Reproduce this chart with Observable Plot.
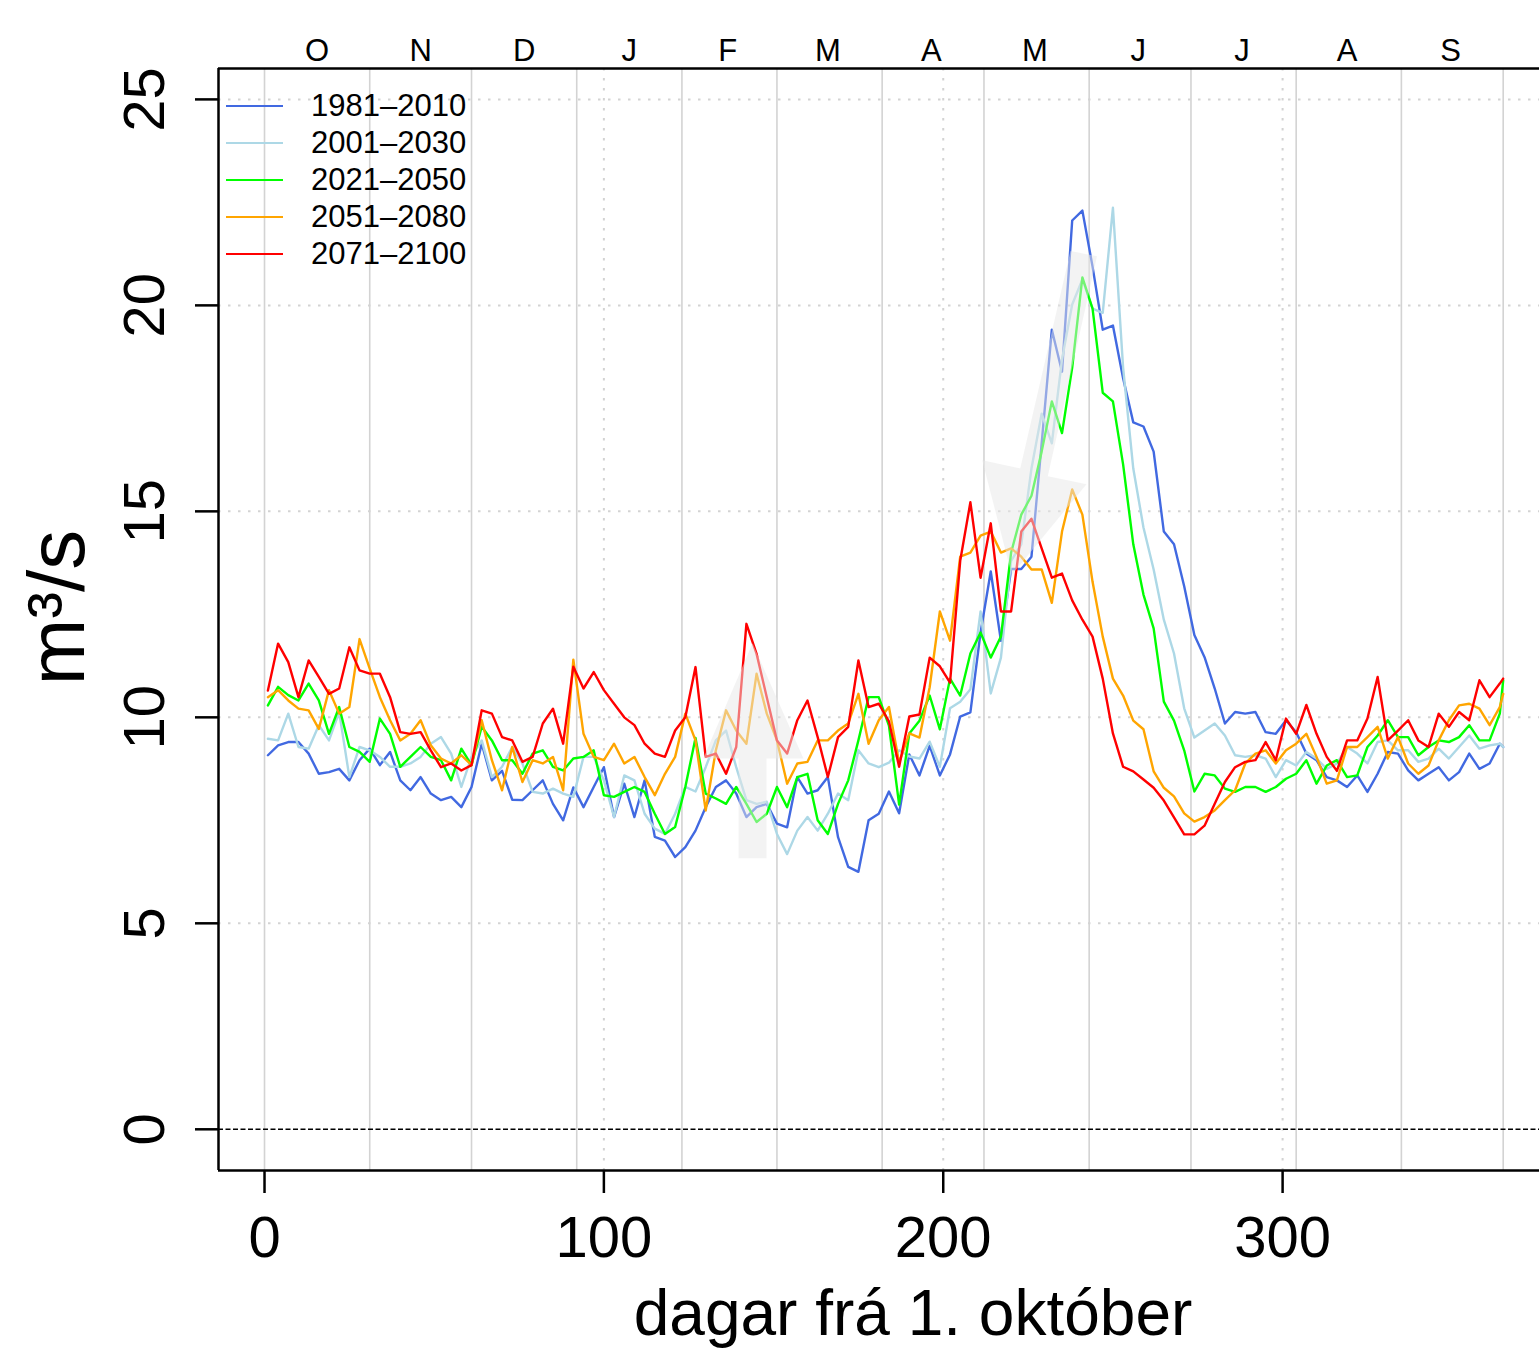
<!DOCTYPE html>
<html><head><meta charset="utf-8">
<script src="https://cdn.jsdelivr.net/npm/d3@7"></script>
<script src="https://cdn.jsdelivr.net/npm/@observablehq/plot@0.6"></script>
<style>
html,body{margin:0;padding:0;background:#fff;overflow:hidden}
#wrap{position:relative;width:1539px;height:1348px}
#legend{position:absolute;left:226px;top:87px;font-family:"Liberation Sans",Arial,sans-serif;font-size:31px;color:#000}
.row{display:flex;align-items:center;height:37px}
.sw{width:57px;height:0;border-top:2.4px solid;margin-right:28px}
</style></head><body><div id="wrap"><div id="legend"></div></div>
<script>
// day numbers (days since 1 October)
const days = [...d3.range(1, 365, 3), 365];

const seriesNames = ["1981\u20132010", "2001\u20132030", "2021\u20132050", "2051\u20132080", "2071\u20132100"];
const seriesColors = ["#4169E1", "#ADD8E6", "#00FF00", "#FFA500", "#FF0000"];

const s1981 = [9.08,9.32,9.4,9.4,9.12,8.63,8.67,8.75,8.47,8.96,9.24,8.84,9.16,8.47,8.23,8.55,8.15,7.99,8.07,7.82,8.31,9.36,8.47,8.7,8.0,7.99,8.23,8.47,7.9,7.5,8.3,
7.82,8.31,8.79,7.58,8.39,7.58,8.47,7.1,7.01,6.61,6.85,7.25,7.82,8.31,8.47,8.15,7.58,7.82,7.9,7.42,7.33,8.55,8.15,8.23,8.55,7.09,6.37,6.25,7.5,7.66,8.2,
7.67,9.1,8.59,9.31,8.59,9.1,10.02,10.12,12.06,13.54,11.86,13.6,13.6,13.9,16.65,19.41,18.39,22.06,22.3,20.94,19.41,19.51,18.23,17.16,17.06,16.45,14.51,14.2,13.18,12.0,11.46,
10.7,9.85,10.13,10.09,10.13,9.64,9.6,9.93,9.64,9.12,8.96,8.55,8.47,8.31,8.59,8.19,8.63,9.16,9.12,8.71,8.47,8.63,8.79,8.47,8.67,9.12,8.75,8.88,9.36,
9.28];

const s2001 = [9.48,9.44,10.09,9.28,9.24,9.81,9.44,10.13,8.55,9.28,9.2,9.04,8.8,8.8,8.88,9.04,9.36,9.52,9.12,8.31,9.04,9.44,8.55,8.8,9.28,8.88,8.19,8.15,8.27,8.15,8.07,
9.04,9.04,8.47,7.58,8.59,8.47,7.66,7.3,7.17,7.66,8.31,8.2,8.79,9.44,9.68,8.79,7.99,7.9,7.95,7.17,6.68,7.25,7.58,7.25,7.66,8.15,7.99,9.2,8.88,8.79,8.9,
9.2,9.05,9.0,9.41,8.8,10.22,10.38,10.68,12.57,10.58,11.45,13.8,14.2,16.04,17.37,16.65,18.69,20.02,20.63,19.92,19.82,22.37,18.49,16.04,14.61,13.59,12.37,11.55,10.22,9.51,9.68,
9.85,9.56,9.08,9.04,9.08,9.0,8.55,8.96,8.83,9.16,9.0,8.75,8.88,9.28,9.12,8.88,9.4,9.44,9.2,9.2,8.92,9.0,9.24,9.0,9.28,9.56,9.24,9.32,9.36,
9.28];

const s2021 = [10.29,10.74,10.54,10.41,10.82,10.41,9.6,10.25,9.28,9.16,8.92,9.97,9.6,8.8,9.04,9.28,9.04,8.96,8.47,9.24,8.84,9.77,9.44,8.96,8.96,8.63,9.12,9.2,8.8,8.71,9.0,
9.04,9.2,8.11,8.07,8.19,8.31,8.19,7.66,7.17,7.34,8.31,9.5,8.15,8.03,7.9,8.31,7.9,7.46,7.66,8.31,7.82,8.55,8.63,7.5,7.17,7.9,8.47,9.44,10.49,10.49,9.8,
7.88,9.61,9.92,10.53,9.71,10.94,10.53,11.55,12.06,11.45,11.96,14.0,14.92,15.38,16.45,17.67,16.9,18.49,20.68,19.92,17.88,17.67,16.14,14.2,12.98,12.16,10.38,9.92,9.2,8.2,8.63,
8.59,8.27,8.19,8.31,8.31,8.19,8.31,8.51,8.63,8.96,8.39,8.83,8.96,8.55,8.59,9.28,9.56,9.93,9.52,9.52,9.08,9.28,9.44,9.4,9.52,9.81,9.44,9.44,10.09,
10.9];

const s2051 = [10.49,10.66,10.41,10.21,10.17,9.72,10.66,10.09,10.25,11.9,11.18,10.49,9.93,9.44,9.6,9.93,9.32,9.0,8.88,9.08,8.84,9.93,8.96,8.23,9.28,8.43,8.96,8.88,9.04,8.23,11.4,
9.6,9.04,8.96,9.36,8.88,9.04,8.55,8.11,8.63,9.04,10.09,9.44,7.74,9.2,10.17,9.68,9.36,11.06,10.09,9.44,8.39,8.88,8.92,9.44,9.44,9.68,9.85,10.57,9.36,9.93,10.25,
8.9,9.61,9.51,10.73,12.57,11.86,13.9,14.0,14.41,14.51,14.0,14.1,13.9,13.59,13.59,12.78,14.51,15.53,14.92,13.29,11.96,10.94,10.53,9.92,9.71,8.69,8.29,8.08,7.67,7.47,7.58,
7.74,7.99,8.23,8.88,9.12,9.2,8.88,9.2,9.36,9.6,9.04,8.39,8.47,9.28,9.28,9.52,9.77,9.0,9.52,8.88,8.63,8.83,9.44,9.93,10.29,10.33,10.21,9.81,10.25,
10.57];

const s2071 = [10.65,11.79,11.34,10.49,11.38,10.98,10.57,10.7,11.7,11.14,11.06,11.06,10.49,9.64,9.6,9.64,9.2,8.79,8.88,8.71,8.84,10.17,10.09,9.52,9.44,8.92,9.04,9.85,10.21,9.36,11.23,
10.7,11.1,10.66,10.33,10.0,9.81,9.36,9.12,9.04,9.68,10.0,11.22,9.04,9.12,8.63,9.28,12.27,11.54,10.49,9.44,9.12,9.93,10.41,9.52,8.55,9.52,9.77,11.38,10.25,10.33,9.9,
8.8,10.02,10.07,11.45,11.24,10.84,13.8,15.22,13.39,14.71,12.57,12.57,14.51,14.82,14.1,13.39,13.49,12.84,12.37,11.96,10.94,9.61,8.8,8.69,8.49,8.29,7.98,7.57,7.16,7.16,7.37,
7.9,8.43,8.79,8.92,8.96,9.4,8.96,9.97,9.6,10.3,9.6,9.04,8.7,9.44,9.44,9.97,10.98,9.44,9.68,9.93,9.44,9.28,10.09,9.77,10.13,9.93,10.9,10.49,10.82,
10.94];

const allSeries = [s1981, s2001, s2021, s2051, s2071];

// axes & grid
const xTicks = [0, 100, 200, 300];
const yTicks = [0, 5, 10, 15, 20, 25];
const yGrid = [5, 10, 15, 20, 25];
const monthStarts = [0, 31, 61, 92, 123, 151, 182, 212, 243, 273, 304, 335, 365];
const monthMid = [15.5, 46, 76.5, 107.5, 136.5, 166, 196.5, 227, 257.5, 288, 319, 349.5];
const monthLetters = ["O", "N", "D", "J", "F", "M", "A", "M", "J", "J", "A", "S"];
const xDomain = [-13.56, 375.7];
const yDomain = [-1.0, 25.75];

// translucent annotation arrows (in data units)
const upArrowDay = [139.7, 147.9, 147.9, 158.8, 143.8, 129.3, 139.7, 139.7];
const upArrowVal = [6.58, 6.58, 9.0, 9.0, 11.8, 9.0, 9.0, 6.58];
const downArrowDay = [237.5, 245.3, 230.8, 242.2, 220.2, 211.5, 222.7, 237.5];
const downArrowVal = [21.32, 21.19, 15.85, 15.66, 13.46, 16.24, 16.04, 21.32];

const toPts = (xs, ys) => xs.map((x, i) => ({x, y: ys[i]}));
const upArrow = toPts(upArrowDay, upArrowVal);
const downArrow = toPts(downArrowDay, downArrowVal);

const seriesMarks = allSeries.map((vals, k) =>
  Plot.line(days.map((d, i) => ({day: d, v: vals[i]})), {
    x: "day", y: "v", stroke: seriesColors[k], strokeWidth: 2.4, strokeLinejoin: "round"
  })
);

const font = "'Liberation Sans', Arial, Helvetica, sans-serif";

const chart = Plot.plot({
  width: 1539,
  height: 1348,
  marginLeft: 218,
  marginRight: 0,
  marginTop: 68,
  marginBottom: 178,
  x: {domain: xDomain},
  y: {domain: yDomain},
  style: {fontFamily: font, background: "white", color: "black", overflow: "visible"},
  marks: [
    Plot.ruleX(monthStarts, {stroke: "#d3d3d3", strokeWidth: 1.6}),
    Plot.ruleX([100, 200, 300], {stroke: "#d3d3d3", strokeWidth: 2, strokeDasharray: "2.5,7.5"}),
    Plot.ruleY(yGrid, {stroke: "#d3d3d3", strokeWidth: 2, strokeDasharray: "2.5,7.5"}),
    Plot.ruleY([0], {stroke: "black", strokeWidth: 1.5, strokeDasharray: "5,2.5"}),
    ...seriesMarks,
    Plot.line(upArrow, {x: "x", y: "y", fill: "#e7e7e7", fillOpacity: 0.5, stroke: "none"}),
    Plot.line(downArrow, {x: "x", y: "y", fill: "#e7e7e7", fillOpacity: 0.5, stroke: "none"}),
    Plot.ruleX([xDomain[0]], {stroke: "black", strokeWidth: 2.5}),
    Plot.ruleY(yDomain, {stroke: "black", strokeWidth: 2.5}),
    Plot.axisY(yTicks, {anchor: "left", tickSize: 23, tickPadding: 32, tickRotate: -90,
      textAnchor: "middle", lineAnchor: "bottom", fontSize: 58, strokeWidth: 2.5, label: null}),
    Plot.axisX(xTicks, {anchor: "bottom", tickSize: 23, tickPadding: 22, fontSize: 58, strokeWidth: 2.5, label: null}),
    Plot.axisX(monthMid, {anchor: "top", tickSize: 0, tickPadding: 8, fontSize: 31, label: null,
      tickFormat: d => monthLetters[monthMid.indexOf(d)]}),
    Plot.text(["dagar fr\u00e1 1. okt\u00f3ber"], {frameAnchor: "bottom", dx: 34, dy: 164,
      lineAnchor: "bottom", fontSize: 64}),
    Plot.text(["m\u00b3/s"], {frameAnchor: "left", dx: -160, dy: -12, rotate: -90,
      lineAnchor: "middle", textAnchor: "middle", fontSize: 80})
  ]
});

document.getElementById("wrap").prepend(chart);

const legend = d3.select("#legend");
seriesNames.forEach((name, k) => {
  const row = legend.append("div").attr("class", "row");
  row.append("div").attr("class", "sw").style("border-top-color", seriesColors[k]);
  row.append("span").text(name);
});
</script>
</body></html>
